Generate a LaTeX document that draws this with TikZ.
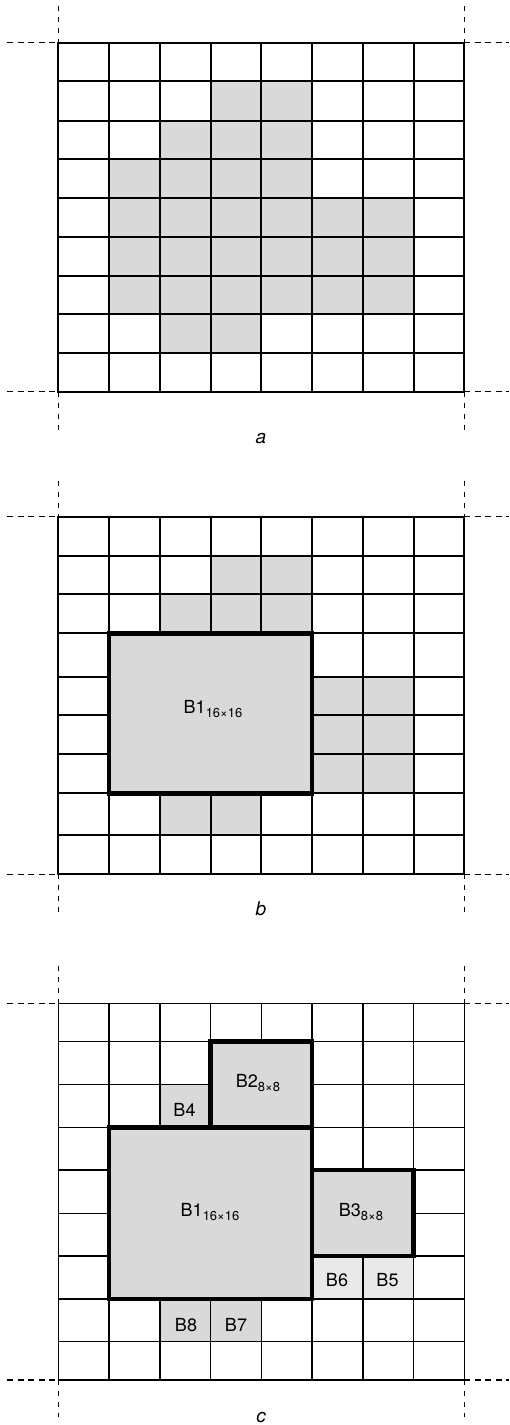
\documentclass[tikz,border=0pt]{standalone}
\usepackage{fontspec}
\setmainfont{TeX Gyre Heros}
\definecolor{cellgray}{HTML}{D9D9D9}
\definecolor{lightcell}{HTML}{E9E9E9}
\newcommand\blksub[1]{\raisebox{-4pt}{\fontsize{13}{13}\selectfont #1}}
\begin{document}
\begin{tikzpicture}[x=1pt,y=-1pt,
  gridline/.style={line width=2pt, line cap=rect},
  thingrid/.style={line width=1.4pt, line cap=rect},
  thickbox/.style={line width=4.6pt, line join=miter, fill=cellgray},
  cellfill/.style={fill=cellgray},
  lightfill/.style={fill=lightcell},
  hdash/.style={line width=1.2pt, dash pattern=on 6pt off 4.5pt},
  vdash/.style={line width=1.2pt, dash pattern=on 5pt off 6pt},
  blabel/.style={font=\fontsize{18}{18}\selectfont, inner sep=0pt, anchor=base},
  panellabel/.style={font=\fontsize{19}{19}\selectfont\itshape, inner sep=0pt, anchor=base},
]
\useasboundingbox (0,0) rectangle (509,1425);
\clip (0,0) rectangle (509,1425);
\fill[white] (0,0) rectangle (509,1425);

% columns
\foreach \i in {0,...,8} \coordinate (c\i) at ({58.3+50.75*\i},0);
% rows of the three panels
\foreach \y [count=\i from 0] in {42.7,81,120.7,159.3,198.3,237.3,276,314.3,353.3,391.7}
  \coordinate (a\i) at (0,\y);
\foreach \y [count=\i from 0] in {516.7,555.7,594.3,633.3,676.7,715,754,793.3,835,874.3}
  \coordinate (b\i) at (0,\y);
\foreach \y [count=\i from 0] in {1003.3,1041.7,1084.3,1127.3,1170,1213.3,1256,1299,1341.7,1380}
  \coordinate (r\i) at (0,\y);

% ---------------- panel a ----------------
\fill[cellfill] (c3|-a1) rectangle (c5|-a2);
\fill[cellfill] (c2|-a2) rectangle (c5|-a3);
\fill[cellfill] (c1|-a3) rectangle (c5|-a4);
\fill[cellfill] (c1|-a4) rectangle (c7|-a7);
\fill[cellfill] (c2|-a7) rectangle (c4|-a8);
\foreach \i in {0,...,9} \draw[gridline] (c0|-a\i) -- (c8|-a\i);
\foreach \i in {0,...,8} \draw[gridline] (c\i|-a0) -- (c\i|-a9);
\draw[hdash] (7,42.7) -- (c0|-a0);
\draw[hdash] (c8|-a0) -- (509,42.7);
\draw[hdash] (7,391.7) -- (c0|-a9);
\draw[hdash] (c8|-a9) -- (509,391.7);
\draw[vdash] (58.3,6) -- (c0|-a0);
\draw[vdash] (464.3,6) -- (c8|-a0);
\draw[vdash] (c0|-a9) -- (58.3,430);
\draw[vdash] (c8|-a9) -- (464.3,430);
\node[panellabel] (la) at (261,443) {a};

% ---------------- panel b ----------------
\fill[cellfill] (c3|-b1) rectangle (c5|-b2);
\fill[cellfill] (c2|-b2) rectangle (c5|-b3);
\fill[cellfill] (c5|-b4) rectangle (c7|-b7);
\fill[cellfill] (c2|-b7) rectangle (c4|-b8);
\foreach \i in {0,...,9} \draw[gridline] (c0|-b\i) -- (c8|-b\i);
\foreach \i in {0,...,8} \draw[gridline] (c\i|-b0) -- (c\i|-b9);
\draw[thickbox] (c1|-b3) rectangle (c5|-b7);
\node[blabel] (bB1) at (213,713.3) {B1\blksub{16×16}};
\draw[hdash] (7,516.7) -- (c0|-b0);
\draw[hdash] (c8|-b0) -- (509,516.7);
\draw[hdash] (7,874.3) -- (c0|-b9);
\draw[hdash] (c8|-b9) -- (509,874.3);
\draw[vdash] (58.3,480.7) -- (c0|-b0);
\draw[vdash] (464.3,480.7) -- (c8|-b0);
\draw[vdash] (c0|-b9) -- (58.3,913);
\draw[vdash] (c8|-b9) -- (464.3,913);
\node[panellabel] (lb) at (261,915) {b};

% ---------------- panel c ----------------
\fill[cellfill] (c2|-r2) rectangle (c3|-r3);
\fill[lightfill] (c5|-r6) rectangle (c7|-r7);
\fill[cellfill] (c2|-r7) rectangle (c4|-r8);
\foreach \i in {0,...,9} \draw[thingrid] (c0|-r\i) -- (c8|-r\i);
\foreach \i in {0,...,8} \draw[thingrid] (c\i|-r0) -- (c\i|-r9);
\draw[thickbox] (c3|-r1) rectangle (c5|-r3);
\draw[thickbox] (c1|-r3) rectangle (c5|-r7);
\draw[thickbox] (c5|-r4) rectangle (c7|-r6);
\node[blabel] (cB1) at (210,1216) {B1\blksub{16×16}};
\node[blabel] (cB2) at (258,1087.7) {B2\blksub{8×8}};
\node[blabel] (cB3) at (361,1216) {B3\blksub{8×8}};
\node[blabel] (cB4) at (184.5,1116) {B4};
\node[blabel] (cB6) at (337,1286.7) {B6};
\node[blabel] (cB5) at (387.5,1286.7) {B5};
\node[blabel] (cB8) at (186,1331.7) {B8};
\node[blabel] (cB7) at (236,1331.7) {B7};
\draw[hdash] (7,1003.3) -- (c0|-r0);
\draw[hdash] (c8|-r0) -- (509,1003.3);
\draw[hdash] (7,1380) -- (c0|-r9);
\draw[hdash] (c8|-r9) -- (509,1380);
\draw[vdash] (58.3,965.7) -- (c0|-r0);
\draw[vdash] (464.3,965.7) -- (c8|-r0);
\draw[vdash] (c0|-r9) -- (58.3,1417);
\draw[vdash] (c8|-r9) -- (464.3,1417);
\node[panellabel] (lc) at (261,1422) {c};
\end{tikzpicture}
\end{document}
